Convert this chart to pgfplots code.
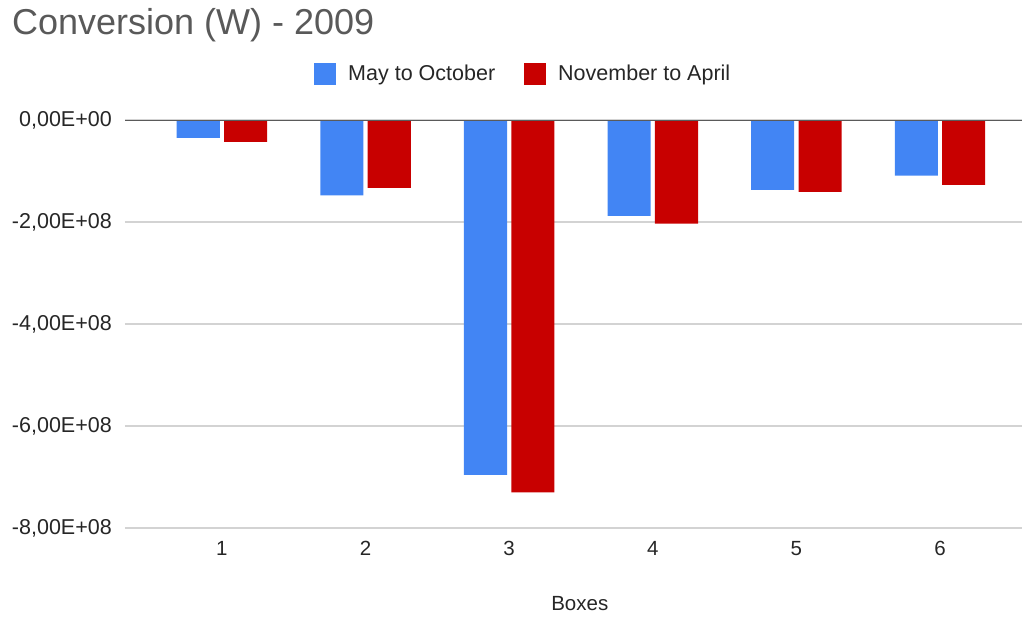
\documentclass[border=0pt]{standalone}
\usepackage{pgfplots}
\pgfplotsset{compat=1.18}
\usepackage{fontspec}
\setmainfont{Liberation Sans}
\definecolor{cblue}{HTML}{4285F4}
\definecolor{cred}{HTML}{C80000}
\definecolor{ctitle}{HTML}{595959}
\definecolor{cgrid}{HTML}{D3D3D3}
\definecolor{czero}{HTML}{5A5A5A}
\begin{document}
\begin{tikzpicture}
\useasboundingbox (-125pt,-88pt) rectangle (900pt,528pt);
\begin{axis}[
  scale only axis,
  width=897pt, height=408pt,
  anchor=south west, at={(0pt,0pt)},
  xmin=0.325, xmax=6.571,
  ymin=-8e8, ymax=0,
  scaled y ticks=false,
  ybar,
  bar width=0.30,
  xtick={1,2,3,4,5,6},
  xticklabels={1,2,3,4,5,6},
  ytick={-8e8,-6e8,-4e8,-2e8,0},
  yticklabels={{-8,00E+08},{-6,00E+08},{-4,00E+08},{-2,00E+08},{0,00E+00}},
  ymajorgrids,
  grid style={cgrid, line width=1.6pt},
  axis line style={draw=none},
  major tick length=0pt,
  tick style={draw=none},
  yticklabel style={font=\fontsize{21.5}{25}\selectfont, text=black!85, inner sep=0pt, anchor=east, xshift=-13pt},
  xticklabel style={font=\fontsize{20.5}{24}\selectfont, text=black!85, inner sep=0pt, anchor=north, yshift=-13pt},
  xlabel={Boxes},
  xlabel style={font=\fontsize{20.5}{24}\selectfont, text=black!85, at={(axis description cs:0.507,-0.184)}, anchor=center, inner sep=0pt},
  legend columns=2,
  legend style={draw=none, fill=none, at={(0.444,1.113)}, anchor=center,
    font=\fontsize{21.5}{25}\selectfont, text=black!85,
    /tikz/every even column/.append style={column sep=27pt}},
  legend image code/.code={\path[#1, draw=none] (0pt,-11pt) rectangle (22pt,11pt);},
  legend cell align=left,
]
\addplot[fill=cblue, draw=none, bar shift=-0.165] coordinates {
  (1,-0.35e8) (2,-1.48e8) (3,-6.96e8) (4,-1.88e8) (5,-1.37e8) (6,-1.09e8)};
\addlegendentry{\hspace{10pt}May to October}
\addplot[fill=cred, draw=none, bar shift=0.165] coordinates {
  (1,-0.43e8) (2,-1.33e8) (3,-7.30e8) (4,-2.03e8) (5,-1.41e8) (6,-1.27e8)};
\addlegendentry{\hspace{10pt}November to April}
\draw[czero, line width=2.2pt] (axis cs:0.325,0) -- (axis cs:6.571,0);
\end{axis}
\node[anchor=base west, inner sep=0pt, text=ctitle, font=\fontsize{36}{42}\selectfont] at (-113pt,493pt) {Conversion (W) - 2009};
\end{tikzpicture}
\end{document}
